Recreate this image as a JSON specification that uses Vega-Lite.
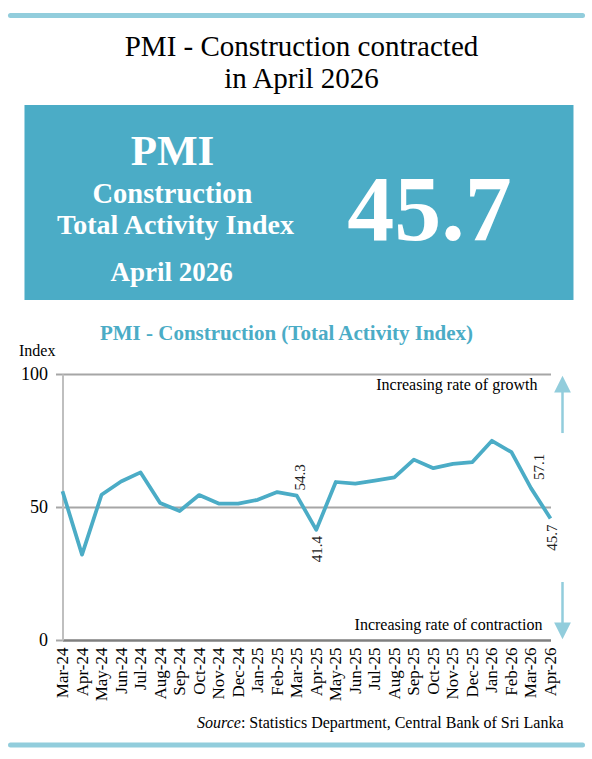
{
  "$schema": "https://vega.github.io/schema/vega-lite/v6.json",
  "background": "white",
  "padding": {"left": 7.5, "top": 13, "right": 7.5, "bottom": 14},
  "config": {"view": {"stroke": null}, "font": "Liberation Serif"},
  "spacing": 15,
  "vconcat": [
    {
      "width": 488,
      "height": 5,
      "data": {"values": [{}]},
      "mark": {"type": "rule", "color": "#92CDDC", "strokeWidth": 5, "strokeCap": "round"},
      "encoding": {
        "x": {"datum": -0.1066, "type": "quantitative", "scale": {"domain": [0, 1], "nice": false, "zero": false}, "axis": null},
        "x2": {"datum": 1.0656}
      }
    },
    {
      "spacing": 23,
      "vconcat": [
        {
          "width": 488,
          "height": 195,
          "title": {
            "text": ["PMI - Construction contracted", "in April 2026"],
            "font": "Liberation Serif",
            "fontSize": 29,
            "fontWeight": "normal",
            "color": "black",
            "lineHeight": 32,
            "anchor": "middle",
            "frame": "group",
            "offset": 11,
            "dx": -5
          },
          "data": {"values": [{}]},
          "layer": [
            {
              "mark": {"type": "rect", "color": "#4BACC6", "opacity": 1},
              "encoding": {
                "x": {"datum": -0.0779, "type": "quantitative", "scale": {"domain": [0, 1], "nice": false, "zero": false}, "axis": null},
                "x2": {"datum": 1.0471},
                "y": {"datum": 0, "type": "quantitative", "scale": {"domain": [0, 1], "reverse": true, "nice": false, "zero": false}, "axis": null},
                "y2": {"datum": 1}
              }
            },
            {
              "mark": {"type": "text", "align": "center", "baseline": "alphabetic", "font": "Liberation Serif", "fontWeight": "bold", "fontSize": 43, "color": "white"},
              "encoding": {
                "x": {"datum": 0.2254, "type": "quantitative", "scale": {"domain": [0, 1], "nice": false, "zero": false}, "axis": null},
                "y": {"datum": 0.309, "type": "quantitative", "scale": {"domain": [0, 1], "reverse": true, "nice": false, "zero": false}, "axis": null},
                "text": {"value": "PMI"}
              }
            },
            {
              "mark": {"type": "text", "align": "center", "baseline": "alphabetic", "font": "Liberation Serif", "fontWeight": "bold", "fontSize": 28.5, "color": "white"},
              "encoding": {
                "x": {"datum": 0.2254, "type": "quantitative", "scale": {"domain": [0, 1], "nice": false, "zero": false}, "axis": null},
                "y": {"datum": 0.501, "type": "quantitative", "scale": {"domain": [0, 1], "reverse": true, "nice": false, "zero": false}, "axis": null},
                "text": {"value": "Construction"}
              }
            },
            {
              "mark": {"type": "text", "align": "center", "baseline": "alphabetic", "font": "Liberation Serif", "fontWeight": "bold", "fontSize": 28, "color": "white"},
              "encoding": {
                "x": {"datum": 0.2316, "type": "quantitative", "scale": {"domain": [0, 1], "nice": false, "zero": false}, "axis": null},
                "y": {"datum": 0.663, "type": "quantitative", "scale": {"domain": [0, 1], "reverse": true, "nice": false, "zero": false}, "axis": null},
                "text": {"value": "Total Activity Index"}
              }
            },
            {
              "mark": {"type": "text", "align": "center", "baseline": "alphabetic", "font": "Liberation Serif", "fontWeight": "bold", "fontSize": 27, "color": "white"},
              "encoding": {
                "x": {"datum": 0.2238, "type": "quantitative", "scale": {"domain": [0, 1], "nice": false, "zero": false}, "axis": null},
                "y": {"datum": 0.9026, "type": "quantitative", "scale": {"domain": [0, 1], "reverse": true, "nice": false, "zero": false}, "axis": null},
                "text": {"value": "April 2026"}
              }
            },
            {
              "mark": {"type": "text", "align": "center", "baseline": "alphabetic", "font": "Liberation Serif", "fontWeight": "bold", "fontSize": 94, "color": "white"},
              "encoding": {
                "x": {"datum": 0.752, "type": "quantitative", "scale": {"domain": [0, 1], "nice": false, "zero": false}, "axis": null},
                "y": {"datum": 0.6923, "type": "quantitative", "scale": {"domain": [0, 1], "reverse": true, "nice": false, "zero": false}, "axis": null},
                "text": {"value": "45.7"}
              }
            }
          ]
        },
        {
          "width": 488,
          "height": 266,
          "title": {
            "text": "PMI - Construction (Total Activity Index)",
            "font": "Liberation Serif",
            "fontSize": 21,
            "fontWeight": "bold",
            "color": "#4BACC6",
            "anchor": "middle",
            "frame": "group",
            "dx": -20,
            "offset": -2
          },
          "data": {
            "values": [
              {"month": "Mar-24", "value": 55.9},
              {"month": "Apr-24", "value": 32.1},
              {"month": "May-24", "value": 54.6},
              {"month": "Jun-24", "value": 59.6},
              {"month": "Jul-24", "value": 63.0},
              {"month": "Aug-24", "value": 51.5},
              {"month": "Sep-24", "value": 48.5},
              {"month": "Oct-24", "value": 54.5},
              {"month": "Nov-24", "value": 51.3},
              {"month": "Dec-24", "value": 51.3},
              {"month": "Jan-25", "value": 52.7},
              {"month": "Feb-25", "value": 55.6},
              {"month": "Mar-25", "value": 54.3},
              {"month": "Apr-25", "value": 41.4},
              {"month": "May-25", "value": 59.4},
              {"month": "Jun-25", "value": 58.8},
              {"month": "Jul-25", "value": 59.9},
              {"month": "Aug-25", "value": 61.1},
              {"month": "Sep-25", "value": 67.8},
              {"month": "Oct-25", "value": 64.6},
              {"month": "Nov-25", "value": 66.2},
              {"month": "Dec-25", "value": 66.9},
              {"month": "Jan-26", "value": 74.9},
              {"month": "Feb-26", "value": 70.6},
              {"month": "Mar-26", "value": 57.1},
              {"month": "Apr-26", "value": 45.7}
            ]
          },
          "encoding": {
            "x": {
              "field": "month",
              "type": "ordinal",
              "sort": null,
              "scale": {
                "type": "point",
                "padding": 0,
                "domain": ["Mar-24", "Apr-24", "May-24", "Jun-24", "Jul-24", "Aug-24", "Sep-24", "Oct-24", "Nov-24", "Dec-24", "Jan-25", "Feb-25", "Mar-25", "Apr-25", "May-25", "Jun-25", "Jul-25", "Aug-25", "Sep-25", "Oct-25", "Nov-25", "Dec-25", "Jan-26", "Feb-26", "Mar-26", "Apr-26"]
              },
              "axis": {
                "title": null,
                "labelAngle": -90,
                "labelFont": "Liberation Serif",
                "labelFontSize": 17,
                "labelColor": "black",
                "labelPadding": 7,
                "ticks": false,
                "grid": false,
                "domainColor": "#808080",
                "domainWidth": 2
              }
            },
            "y": {
              "field": "value",
              "type": "quantitative",
              "scale": {"domain": [0, 100], "nice": false},
              "axis": {
                "values": [0, 50, 100],
                "grid": true,
                "gridColor": {"condition": {"test": "datum.value === 0", "value": "#808080"}, "value": "#A6A6A6"},
                "gridWidth": 2,
                "domainColor": "#BFBFBF",
                "domainWidth": 2,
                "tickColor": "#A6A6A6",
                "tickSize": 7,
                "tickWidth": 2,
                "labelFont": "Liberation Serif",
                "labelFontSize": 18,
                "labelColor": "black",
                "labelPadding": 8,
                "title": "Index",
                "titleAngle": 0,
                "titleFont": "Liberation Serif",
                "titleFontSize": 16,
                "titleFontWeight": "normal",
                "titleColor": "black",
                "titleAlign": "left",
                "titleBaseline": "alphabetic",
                "titleX": -44,
                "titleY": -19
              }
            }
          },
          "layer": [
            {
              "mark": {"type": "line", "color": "#4BACC6", "strokeWidth": 3.75, "strokeJoin": "round"}
            },
            {
              "transform": [{"filter": "datum.month === 'Mar-25'"}],
              "mark": {"type": "text", "angle": 270, "align": "left", "baseline": "middle", "dx": 5, "dy": 3, "font": "Liberation Serif", "fontSize": 15, "color": "#222222"},
              "encoding": {"text": {"field": "value", "type": "quantitative", "format": ".1f"}}
            },
            {
              "transform": [{"filter": "datum.month === 'Mar-26'"}],
              "mark": {"type": "text", "angle": 270, "align": "left", "baseline": "middle", "dx": 8, "dy": 8, "font": "Liberation Serif", "fontSize": 15, "color": "#222222"},
              "encoding": {"text": {"field": "value", "type": "quantitative", "format": ".1f"}}
            },
            {
              "transform": [{"filter": "datum.month === 'Apr-25' || datum.month === 'Apr-26'"}],
              "mark": {"type": "text", "angle": 270, "align": "right", "baseline": "middle", "dx": -6, "dy": 1, "font": "Liberation Serif", "fontSize": 15, "color": "#222222"},
              "encoding": {"text": {"field": "value", "type": "quantitative", "format": ".1f"}}
            },
            {
              "transform": [{"filter": "datum.month === 'Apr-26'"}],
              "mark": {"type": "text", "align": "right", "baseline": "alphabetic", "dx": -13, "dy": 16, "font": "Liberation Serif", "fontSize": 16, "color": "black"},
              "encoding": {
                "y": {"datum": 100, "type": "quantitative"},
                "text": {"value": "Increasing rate of growth"}
              }
            },
            {
              "transform": [{"filter": "datum.month === 'Apr-26'"}],
              "mark": {"type": "text", "align": "right", "baseline": "alphabetic", "dx": -8, "dy": -10, "font": "Liberation Serif", "fontSize": 16, "color": "black"},
              "encoding": {
                "y": {"datum": 0, "type": "quantitative"},
                "text": {"value": "Increasing rate of contraction"}
              }
            },
            {
              "transform": [{"filter": "datum.month === 'Apr-26'"}],
              "mark": {"type": "rule", "color": "#92CDDC", "strokeWidth": 2.5, "xOffset": 12},
              "encoding": {
                "y": {"datum": 77.8, "type": "quantitative"},
                "y2": {"datum": 94.5}
              }
            },
            {
              "transform": [{"filter": "datum.month === 'Apr-26'"}],
              "mark": {"type": "point", "shape": "M0,-1L1,1L-1,1Z", "filled": true, "size": 280, "color": "#92CDDC", "opacity": 1, "xOffset": 12},
              "encoding": {
                "y": {"datum": 96.2, "type": "quantitative"}
              }
            },
            {
              "transform": [{"filter": "datum.month === 'Apr-26'"}],
              "mark": {"type": "rule", "color": "#92CDDC", "strokeWidth": 2.5, "xOffset": 12},
              "encoding": {
                "y": {"datum": 21.8, "type": "quantitative"},
                "y2": {"datum": 5}
              }
            },
            {
              "transform": [{"filter": "datum.month === 'Apr-26'"}],
              "mark": {"type": "point", "shape": "M0,1L1,-1L-1,-1Z", "filled": true, "size": 280, "color": "#92CDDC", "opacity": 1, "xOffset": 12},
              "encoding": {
                "y": {"datum": 3.4, "type": "quantitative"}
              }
            },
            {
              "transform": [{"filter": "datum.month === 'Apr-26'"}],
              "mark": {"type": "text", "align": "right", "baseline": "alphabetic", "dx": 13, "dy": 88, "font": "Liberation Serif", "fontSize": 16, "color": "black"},
              "encoding": {
                "y": {"datum": 0, "type": "quantitative"},
                "text": {"value": ": Statistics Department, Central Bank of Sri Lanka"}
              }
            },
            {
              "transform": [{"filter": "datum.month === 'Apr-26'"}],
              "mark": {"type": "text", "align": "right", "baseline": "alphabetic", "dx": -309.6, "dy": 88, "font": "Liberation Serif", "fontSize": 16, "fontStyle": "italic", "color": "black"},
              "encoding": {
                "y": {"datum": 0, "type": "quantitative"},
                "text": {"value": "Source"}
              }
            },
            {
              "transform": [{"filter": "datum.month === 'Apr-26'"}],
              "mark": {"type": "rule", "color": "#92CDDC", "strokeWidth": 5, "strokeCap": "round", "xOffset": -52, "x2Offset": 32, "yOffset": 105},
              "encoding": {
                "x": {"datum": "Mar-24", "type": "ordinal"},
                "x2": {"field": "month"},
                "y": {"datum": 0, "type": "quantitative"}
              }
            }
          ]
        }
      ]
    }
  ]
}
